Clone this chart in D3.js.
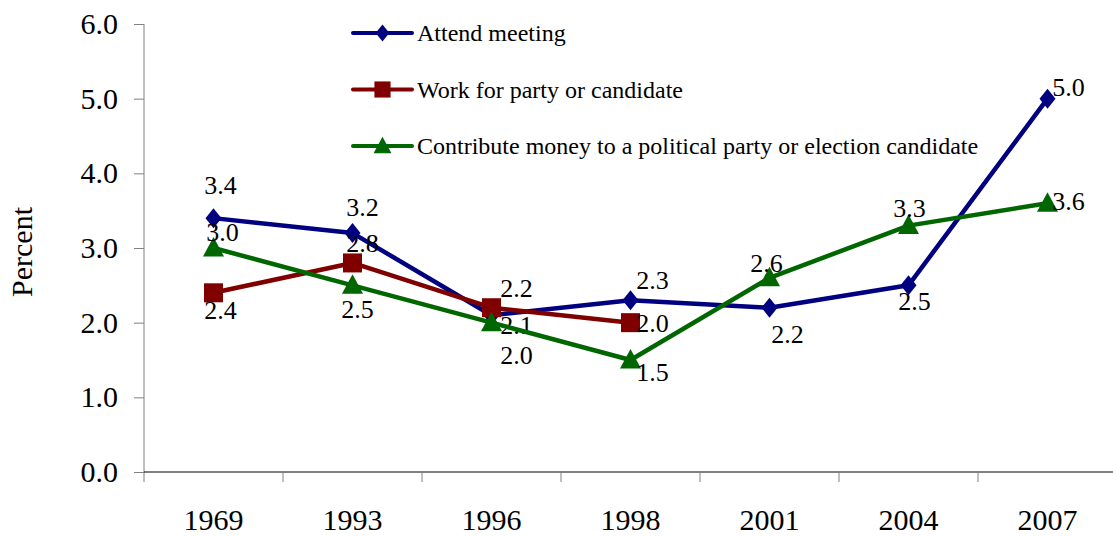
<!DOCTYPE html>
<html>
<head>
<meta charset="utf-8">
<style>
  body { margin: 0; background: #fff; }
  svg text { font-family: "Liberation Serif", "Times New Roman", serif; fill: #000; }
</style>
<title>Political participation</title>
</head>
<body>
<script src="https://cdn.jsdelivr.net/npm/d3@7"></script>
<script>
// chart values
var years = ["1969", "1993", "1996", "1998", "2001", "2004", "2007"];
var attendMeeting = [3.4, 3.2, 2.1, 2.3, 2.2, 2.5, 5.0];
var workForParty = [2.4, 2.8, 2.2, 2.0, null, null, null];
var contributeMoney = [3.0, 2.5, 2.0, 1.5, 2.6, 3.3, 3.6];
var yTicks = [0, 1, 2, 3, 4, 5, 6];

// where each value label sits relative to its point (dx, dy)
var attendLabelNudge = [[7, -33], [10, -26], [25, 10], [22, -20], [18, 26], [6, 16], [21, -12]];
var workLabelNudge = [[7, 17], [10, -20], [25, -20], [22, 0]];
var contributeLabelNudge = [[9, -16], [5, 24], [25, 32], [22, 12], [-3, -15], [1, -18], [21, -2]];

var series = [
  { name: "Attend meeting", values: attendMeeting, nudge: attendLabelNudge, color: "#000080", marker: "diamond" },
  { name: "Work for party or candidate", values: workForParty, nudge: workLabelNudge, color: "#800000", marker: "square" },
  { name: "Contribute money to a political party or election candidate", values: contributeMoney, nudge: contributeLabelNudge, color: "#006600", marker: "triangle" }
];

var W = 1113, H = 536;
var plotLeft = 144, plotRight = 1117, plotTop = 24, plotBottom = 472;

var svg = d3.select("body").append("svg")
  .attr("width", W)
  .attr("height", H);

var x = d3.scaleBand().domain(years).range([plotLeft, plotRight]).padding(0);
var y = d3.scaleLinear().domain([0, 6]).range([plotBottom, plotTop]);

// marker shapes
function markerPath(type) {
  if (type === "diamond") return "M0,-10L8,0L0,10L-8,0Z";
  if (type === "square") return "M-9.5,-9.5H9.5V9.5H-9.5Z";
  return "M0,-11L10.5,8.5L-10.5,8.5Z";
}

// y axis
var yAxis = svg.append("g")
  .attr("transform", "translate(" + plotLeft + ",0)")
  .call(d3.axisLeft(y).tickValues(yTicks).tickFormat(d3.format(".1f")).tickSize(10).tickPadding(16));
yAxis.attr("font-family", null);
yAxis.select(".domain").attr("stroke", "#808080").attr("d", "M0," + plotTop + "V" + (plotBottom + 10));
yAxis.selectAll(".tick line").attr("stroke", "#808080");
yAxis.selectAll(".tick text").style("font-size", "30px").attr("fill", "#000");

// x axis
var xAxis = svg.append("g")
  .attr("transform", "translate(0," + plotBottom + ")")
  .call(d3.axisBottom(x).tickSize(0).tickPadding(37));
xAxis.attr("font-family", null);
xAxis.select(".domain").attr("stroke", "#000").attr("d", "M" + plotLeft + ",0H" + W);
xAxis.selectAll(".tick text").style("font-size", "30px").attr("fill", "#000");

// tick marks on the category boundaries
xAxis.selectAll(".bound")
  .data(years.slice(1))
  .enter().append("line")
  .attr("class", "bound")
  .attr("x1", function(d) { return x(d); })
  .attr("x2", function(d) { return x(d); })
  .attr("y1", 0)
  .attr("y2", 10)
  .attr("stroke", "#808080");

// y axis title
svg.append("text")
  .attr("transform", "translate(32," + ((plotTop + plotBottom) / 2 + 4) + ") rotate(-90)")
  .style("text-anchor", "middle")
  .style("font-size", "30px")
  .text("Percent");

var line = d3.line()
  .x(function(d) { return x(d.year) + x.bandwidth() / 2; })
  .y(function(d) { return y(d.v); });

series.forEach(function(s) {
  var pts = years.map(function(yr, i) { return { year: yr, v: s.values[i], i: i }; })
    .filter(function(d) { return d.v != null; });

  svg.append("path")
    .datum(pts)
    .attr("fill", "none")
    .attr("stroke", s.color)
    .attr("stroke-width", 4.5)
    .attr("stroke-linejoin", "round")
    .attr("d", line);

  svg.selectAll(null)
    .data(pts)
    .enter().append("path")
    .attr("d", markerPath(s.marker))
    .attr("fill", s.color)
    .attr("transform", function(d) {
      return "translate(" + (x(d.year) + x.bandwidth() / 2) + "," + y(d.v) + ")";
    });

  svg.selectAll(null)
    .data(pts)
    .enter().append("text")
    .attr("x", function(d) { return x(d.year) + x.bandwidth() / 2 + s.nudge[d.i][0]; })
    .attr("y", function(d) { return y(d.v) + s.nudge[d.i][1]; })
    .attr("dy", "0.35em")
    .style("text-anchor", "middle")
    .style("font-size", "26px")
    .text(function(d) { return d3.format(".1f")(d.v); });
});

// legend
var legend = svg.append("g").attr("transform", "translate(353,33)");
series.forEach(function(s, i) {
  var row = legend.append("g").attr("transform", "translate(0," + (i * 56.5) + ")");
  row.append("line")
    .attr("x1", 0).attr("x2", 59)
    .attr("y1", 0).attr("y2", 0)
    .attr("stroke", s.color)
    .attr("stroke-width", 4)
    .attr("stroke-linecap", "round");
  row.append("path")
    .attr("d", markerPath(s.marker))
    .attr("fill", s.color)
    .attr("transform", "translate(29.5,0) scale(0.85)");
  row.append("text")
    .attr("x", 64)
    .attr("y", 0)
    .attr("dy", "0.35em")
    .style("font-size", "24px")
    .text(s.name);
});
</script>
</body>
</html>
